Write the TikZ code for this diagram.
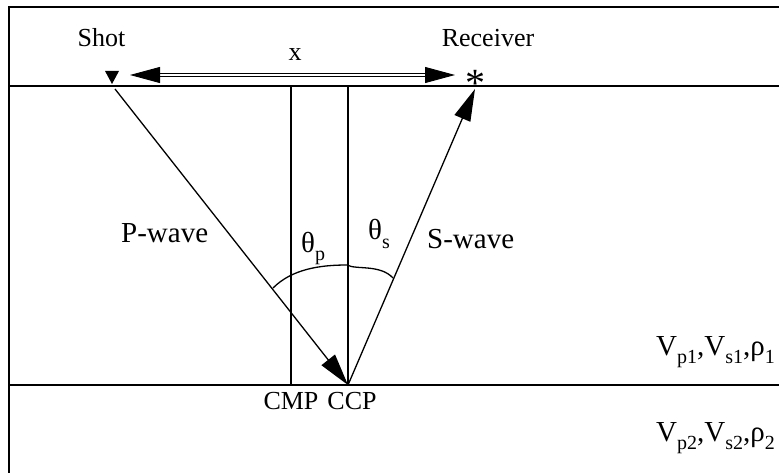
\documentclass[tikz,border=0pt]{standalone}
\usepackage{fontspec}
\setmainfont{Liberation Serif}
\usetikzlibrary{arrows.meta}
\newcommand\mysub[1]{\raisebox{-0.28em}{\fontsize{20}{20}\selectfont #1}}
\begin{document}
\begin{tikzpicture}[x=1pt,y=-1pt,
  lbl/.style={font=\fontsize{26}{30}\selectfont, inner sep=0pt},
  biglbl/.style={font=\fontsize{29}{33}\selectfont, inner sep=0pt},
  thinline/.style={line width=1.3pt},
  thickline/.style={line width=1.7pt},
  wave/.style={line width=1.3pt, -{Triangle[length=32pt,width=17pt]}},
  distarrow/.style={line width=0.9pt, double distance=2.4pt, {Triangle[length=30pt,width=16pt]}-{Triangle[length=30pt,width=16pt]}}]
\useasboundingbox (0,0) rectangle (779,473);
% frame
\draw[thickline] (9,473) -- (9,7) -- (779,7);
% layers
\coordinate (sl) at (9,86);
\coordinate (sr) at (779,86);
\coordinate (il) at (9,385);
\coordinate (ir) at (779,385);
\draw[thickline] (sl) -- (sr);
\draw[thickline] (il) -- (ir);
% shot and receiver
\coordinate (shot) at (112,84);
\fill (shot) -- ++(-7,-13) -- ++(14,0) -- cycle;
\node[lbl, anchor=base] (shotlbl) at (101.5,47) {Shot};
\node[lbl, anchor=center, font=\fontsize{40}{40}\selectfont] (rec) at (475,83) {*};
\node[lbl, anchor=base] (reclbl) at (488,47) {Receiver};
% offset arrow
\coordinate (xl) at (130,75);
\coordinate (xr) at (455,75);
\draw[distarrow] (xl) -- (xr);
\node[lbl, anchor=base] (xlbl) at (295,61) {x};
% CMP / CCP verticals
\coordinate (cmptop) at (291,86);
\coordinate (cmpbot) at (291,385);
\coordinate (ccptop) at (348,86);
\coordinate (ccp) at (348,385);
\draw[thinline] (cmptop) -- (cmpbot);
\draw[thinline] (ccptop) -- (ccp);
\node[lbl, anchor=base] (cmplbl) at (291,409) {CMP};
\node[lbl, anchor=base] (ccplbl) at (352,409) {CCP};
% rays
\coordinate (pstart) at (115,89);
\coordinate (send) at (475,89);
\draw[wave] (pstart) -- (ccp);
\draw[wave] (ccp) -- (send);
% angle curve
\draw[thinline] (273,288) .. controls (292,269) and (320,265) .. (347,265)
  .. controls (356,270) and (380,264) .. (393,278);
\node[biglbl, anchor=base west] (pw) at (121,243) {P-wave};
\node[biglbl, anchor=base west] (sw) at (427,248) {S-wave};
\node[biglbl, anchor=base west] (thp) at (301,252) {θ\mysub{p}};
\node[biglbl, anchor=base west] (ths) at (368,240) {θ\mysub{s}};
% layer parameters
\node[biglbl, anchor=base west] (l1) at (656,355) {V\mysub{p1},V\mysub{s1},ρ\mysub{1}};
\node[biglbl, anchor=base west] (l2) at (656,441) {V\mysub{p2},V\mysub{s2},ρ\mysub{2}};
\end{tikzpicture}
\end{document}
